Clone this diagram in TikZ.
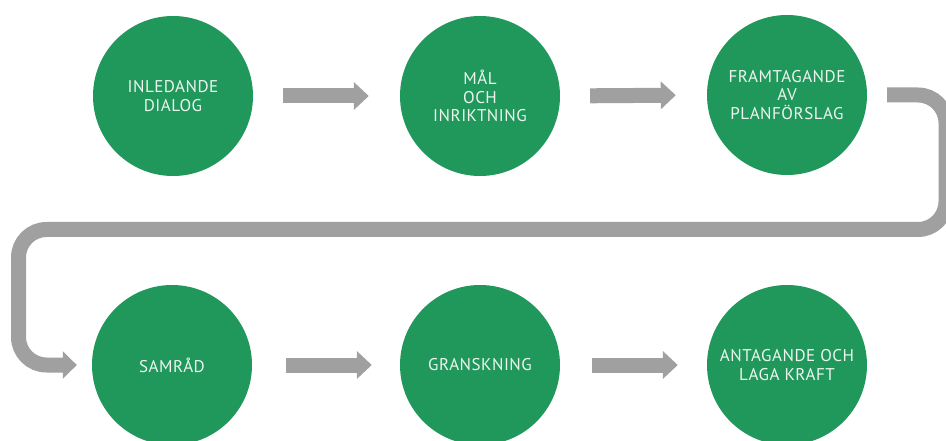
\documentclass[tikz,border=0pt]{standalone}
\usepackage{fontspec}
\setmainfont{PT Sans}[LetterSpace=3]
\usetikzlibrary{arrows.meta}
\definecolor{stepgreen}{HTML}{21985B}
\definecolor{flowgray}{HTML}{A0A0A0}
\definecolor{steptext}{HTML}{ECF5EF}
\begin{document}
\begin{tikzpicture}[x=1pt,y=-1pt,
  stepcircle/.style={circle,fill=stepgreen,draw=none,minimum size=160pt,inner sep=0pt,
    text=steptext,align=center,font=\fontsize{17}{18.5}\selectfont},
  flowarrow/.style={draw=flowgray,line width=15pt,
    -{Triangle[width=27pt,length=15pt]}},
  flowpath/.style={draw=flowgray,line width=15pt,rounded corners=28pt,
    -{Triangle[width=27pt,length=14pt]}}]
\useasboundingbox (0,0) rectangle (946,441);
\node[stepcircle] (c1) at (173,96) {INLEDANDE\\DIALOG};
\node[stepcircle] (c2) at (480,96) {MÅL\\OCH\\INRIKTNING};
\node[stepcircle] (c3) at (787,95) {FRAMTAGANDE\\AV\\PLANFÖRSLAG};
\node[stepcircle] (c4) at (172,365) {SAMRÅD};
\node[stepcircle] (c5) at (480,365) {GRANSKNING};
\node[stepcircle] (c6) at (787,365) {ANTAGANDE OCH\\LAGA KRAFT};
\draw[flowarrow,shorten <=30pt,shorten >=31pt] (c1.east) -- (c2.west);
\draw[flowarrow,shorten <=30pt,shorten >=31pt] (c2.east) -- (c3.west);
\draw[flowarrow,shorten <=34pt,shorten >=28pt] (c4.east) -- (c5.west);
\draw[flowarrow,shorten <=32pt,shorten >=29pt] (c5.east) -- (c6.west);
\coordinate (s) at ([xshift=20pt]c3.east);
\coordinate (t) at ([xshift=-15pt]c4.west);
\draw[flowpath] (s) -- (946,95 |- s) -- (946,229.5) -- (18.5,229.5) -- (18.5,365) -- (t);
\end{tikzpicture}
\end{document}
